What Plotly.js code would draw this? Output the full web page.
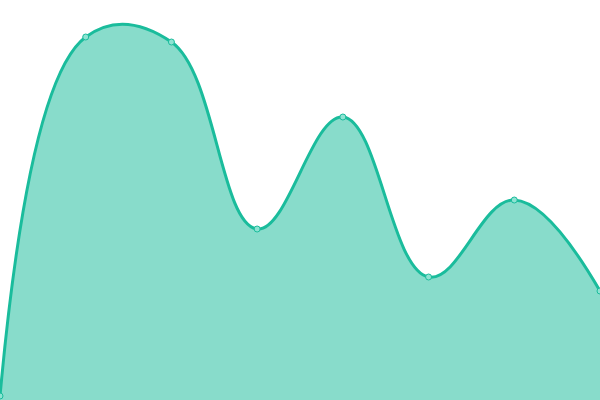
<!DOCTYPE html>
<html>
<head>
<meta charset="utf-8">
<script src="https://cdn.plot.ly/plotly-3.0.1.min.js"></script>
<style>
  html, body { margin: 0; padding: 0; background: #fff; }
  #chart { width: 600px; height: 400px; }
</style>
</head>
<body>
<div id="chart"></div>
<script>
// Series values
const xValues = [0, 1, 2, 3, 4, 5, 6, 7];
const yValues = [1, 90.75, 89.5, 42.75, 70.75, 30.75, 50, 27.25];

var areaTrace = {
  x: xValues,
  y: yValues,
  type: 'scatter',
  mode: 'lines+markers',
  fill: 'tozeroy',
  fillcolor: 'rgba(26, 188, 156, 0.52)',
  line: { color: '#1abc9c', width: 3, shape: 'spline', smoothing: 1.15 },
  marker: { size: 6, color: '#8ee3d2', line: { color: '#1abc9c', width: 1 } },
  hoverinfo: 'none',
};

var layout = {
  width: 600,
  height: 400,
  margin: { t: 0, b: 0, l: 0, r: 0, pad: 0 },
  showlegend: false,
  plot_bgcolor: '#fff',
  paper_bgcolor: '#fff',
  xaxis: { range: [0, 7], visible: false, fixedrange: true },
  yaxis: { range: [0, 100], visible: false, fixedrange: true },
};

Plotly.newPlot('chart', [areaTrace], layout, { displayModeBar: false, staticPlot: true });
</script>
</body>
</html>
